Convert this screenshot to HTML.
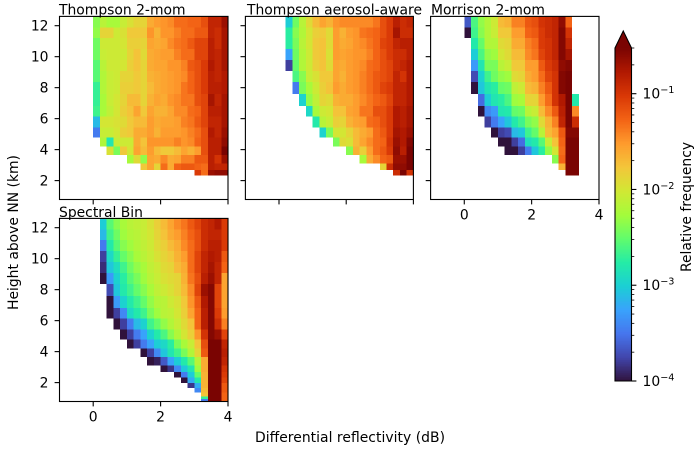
<!DOCTYPE html>
<html lang="en">
<head>
<meta charset="utf-8">
<title>Relative frequency of differential reflectivity by height</title>
<style>
  html, body { margin: 0; padding: 0; background: #fff; }
  svg { display: block; }
  text { font-family: "DejaVu Sans", "Liberation Sans", sans-serif; font-size: 13.9px; fill: #000; }
</style>
</head>
<body>
<svg id="chart" xmlns="http://www.w3.org/2000/svg" width="699" height="449" viewBox="0 0 699 449">
  <rect x="0" y="0" width="699" height="449" fill="#fff"/>
  <g id="panels"></g>
  <g id="colorbar"></g>
  <text x="350" y="442" text-anchor="middle" textLength="190">Differential reflectivity (dB)</text>
  <text transform="translate(18,232.5) rotate(-90)" text-anchor="middle">Height above NN (km)</text>
  <text transform="translate(691,207) rotate(-90)" text-anchor="middle">Relative frequency</text>
</svg>
<script>
// Data: log10(relative frequency); each row starts at the 0 dB bin, _ = empty bin.
const _ = null;
const binWidthDb = 0.2;
const firstBinDb = 0;
const heightEdgesKm = [12.6,11.89,11.2,10.49,9.78,9.07,8.36,7.59,6.81,6.13,5.44,4.77,4.19,3.65,3.12,2.68,2.32,1.97,1.65,1.37,1.10,0.94,0.80];
const xTicks = [0, 2, 4];
const yTicks = [2, 4, 6, 8, 10, 12];
const colorbarMajorExponents = [-1, -2, -3, -4];

const thompson2Mom = [
[-2.37,-2.15,-2.24,-2.24,-2.07,-1.96,-1.87,-1.87,-1.61,-1.53,-1.49,-1.44,-1.31,-1.31,-1.27,-1.27,-1.15,-0.87,-0.87,-0.67],
[-2.33,-1.87,-1.87,-2.04,-1.96,-1.79,-1.79,-1.79,-1.49,-1.65,-1.49,-1.49,-1.4,-1.31,-1.31,-1.21,-1.21,-0.87,-0.93,-0.72],
[-2.46,-2.04,-2.04,-2.04,-2.0,-1.83,-1.83,-1.87,-1.57,-1.61,-1.57,-1.44,-1.35,-1.31,-1.21,-1.09,-1.09,-0.82,-0.93,-0.72],
[-2.46,-2.07,-2.04,-2.04,-2.04,-1.87,-1.75,-1.91,-1.61,-1.57,-1.53,-1.53,-1.4,-1.31,-1.31,-1.09,-1.09,-0.82,-0.87,-0.72],
[-2.55,-2.15,-2.04,-2.04,-2.0,-1.83,-1.75,-1.87,-1.61,-1.57,-1.57,-1.49,-1.49,-1.4,-1.21,-1.15,-1.03,-0.77,-0.87,-0.72],
[-2.55,-2.19,-2.07,-2.04,-1.87,-1.87,-1.79,-1.87,-1.65,-1.61,-1.57,-1.53,-1.49,-1.44,-1.27,-1.15,-1.03,-0.82,-0.87,-0.77],
[-2.69,-2.19,-2.07,-2.04,-1.83,-1.83,-1.79,-1.87,-1.7,-1.61,-1.57,-1.53,-1.49,-1.35,-1.27,-1.15,-1.03,-0.82,-0.82,-0.77],
[-2.69,-2.24,-2.07,-2.0,-1.87,-1.7,-1.7,-1.87,-1.65,-1.57,-1.61,-1.49,-1.44,-1.35,-1.35,-1.15,-1.09,-0.72,-0.87,-0.72],
[-2.65,-2.24,-2.11,-2.0,-1.83,-1.75,-1.57,-1.79,-1.57,-1.65,-1.65,-1.57,-1.44,-1.44,-1.31,-1.27,-1.09,-0.82,-0.82,-0.72],
[-3.12,-2.0,-2.0,-1.96,-1.91,-1.79,-1.7,-1.7,-1.53,-1.61,-1.57,-1.57,-1.53,-1.4,-1.35,-1.21,-1.09,-0.87,-0.87,-0.72],
[-3.47,-2.07,-2.07,-2.0,-1.83,-1.79,-1.61,-1.61,-1.53,-1.65,-1.53,-1.53,-1.53,-1.49,-1.4,-1.31,-1.15,-0.77,-0.87,-0.67],
[_,-2.19,-2.82,-2.07,-2.04,-2.04,-1.61,-1.75,-1.49,-1.49,-1.49,-1.49,-1.4,-1.49,-1.44,-1.27,-1.15,-0.82,-0.82,-0.62],
[_,_,-1.96,-2.42,-1.79,-2.0,-1.57,-1.7,-1.53,-1.7,-1.79,-1.79,-1.7,-1.57,-1.65,-1.53,-1.15,-0.82,-0.82,-0.52],
[_,_,_,_,_,-2.24,-1.91,-2.33,-1.57,-1.61,-1.44,-1.61,-1.57,-1.4,-1.4,-1.21,-1.21,-0.82,-0.98,-0.67],
[_,_,_,_,_,_,_,-1.79,-1.57,-1.87,-1.31,-1.61,-1.27,-1.21,-1.21,-1.27,-1.31,-0.82,-0.87,-0.87],
[_,_,_,_,_,_,_,_,_,_,_,_,_,_,_,-1.03,-1.31,-0.67,-0.62,-0.62]
];

const thompsonAerosol = [
[_,-3.02,-2.46,-2.15,-1.91,-1.7,-1.57,-1.65,-1.49,-1.44,-1.44,-1.44,-1.44,-1.44,-1.35,-1.15,-1.03,-0.82,-0.93,-0.87],
[_,-2.74,-2.37,-2.19,-2.0,-1.83,-1.79,-1.91,-1.53,-1.65,-1.53,-1.49,-1.35,-1.31,-1.27,-1.15,-1.03,-0.72,-0.93,-0.93],
[_,-2.74,-2.42,-2.15,-2.0,-1.79,-1.75,-1.91,-1.53,-1.61,-1.57,-1.49,-1.44,-1.35,-1.27,-1.09,-1.03,-0.87,-0.82,-0.82],
[_,-3.25,-2.46,-2.19,-2.04,-1.79,-1.75,-1.96,-1.53,-1.57,-1.53,-1.49,-1.49,-1.4,-1.27,-1.15,-1.03,-0.93,-0.93,-0.82],
[_,-3.78,-2.5,-2.19,-2.04,-1.83,-1.75,-1.91,-1.57,-1.61,-1.53,-1.49,-1.44,-1.31,-1.27,-1.15,-1.09,-0.93,-0.87,-0.77],
[_,_,-2.6,-2.37,-2.07,-1.96,-1.79,-1.79,-1.57,-1.65,-1.53,-1.49,-1.4,-1.31,-1.21,-1.15,-1.09,-0.87,-0.98,-0.77],
[_,_,-3.47,-2.42,-2.24,-2.04,-1.83,-1.75,-1.53,-1.61,-1.53,-1.49,-1.4,-1.31,-1.21,-1.09,-1.03,-0.87,-0.87,-0.77],
[_,_,_,-2.98,-2.33,-2.11,-1.87,-1.91,-1.65,-1.61,-1.61,-1.53,-1.44,-1.35,-1.27,-1.21,-1.09,-0.87,-0.87,-0.77],
[_,_,_,_,-2.93,-2.24,-2.04,-2.0,-1.75,-1.75,-1.57,-1.53,-1.35,-1.35,-1.15,-1.15,-1.03,-0.77,-0.82,-0.72],
[_,_,_,_,_,-2.78,-2.15,-2.07,-1.83,-1.87,-1.65,-1.57,-1.53,-1.31,-1.27,-1.15,-1.03,-0.77,-0.82,-0.72],
[_,_,_,_,_,_,-2.98,-2.42,-2.0,-2.0,-1.87,-1.7,-1.61,-1.53,-1.31,-1.21,-1.03,-0.72,-0.77,-0.67],
[_,_,_,_,_,_,_,_,-2.42,-1.91,-1.96,-1.7,-1.57,-1.44,-1.31,-1.27,-0.98,-0.67,-0.77,-0.57],
[_,_,_,_,_,_,_,_,_,_,-2.37,-1.65,-1.83,-1.53,-1.31,-1.21,-1.03,-0.62,-0.82,-0.52],
[_,_,_,_,_,_,_,_,_,_,_,_,-2.24,-1.61,-1.44,-1.27,-1.21,-0.67,-0.67,-0.52],
[_,_,_,_,_,_,_,_,_,_,_,_,_,_,_,-1.87,-0.93,-0.62,-0.62,-0.52],
[_,_,_,_,_,_,_,_,_,_,_,_,_,_,_,_,_,-0.93,-0.52,-0.98]
];

const morrison2Mom = [
[-3.65,-2.6,-2.33,-2.19,-2.04,-1.7,-1.65,-1.4,-1.4,-1.21,-1.15,-0.98,-0.93,-0.87,-0.62,-1.27],
[-4.0,-2.65,-2.37,-2.19,-2.07,-1.79,-1.79,-1.53,-1.53,-1.27,-1.21,-1.03,-0.93,-0.87,-0.57,-0.98],
[_,-2.78,-2.5,-2.19,-2.19,-1.91,-1.87,-1.61,-1.61,-1.4,-1.31,-1.03,-0.98,-0.87,-0.57,-0.87],
[_,-3.02,-2.6,-2.33,-2.28,-2.0,-1.91,-1.7,-1.7,-1.44,-1.35,-1.09,-0.98,-0.87,-0.57,-0.72],
[_,-3.3,-2.82,-2.42,-2.42,-2.15,-2.07,-1.79,-1.79,-1.53,-1.53,-1.21,-1.03,-0.93,-0.62,-0.57],
[_,-3.72,-2.98,-2.65,-2.46,-2.33,-2.28,-1.91,-1.87,-1.61,-1.53,-1.31,-1.09,-0.98,-0.57,-0.52],
[_,-4.0,-3.05,-2.82,-2.74,-2.5,-2.46,-2.11,-2.04,-1.7,-1.65,-1.4,-1.21,-0.98,-0.57,-0.52],
[_,_,-3.55,-3.02,-2.82,-2.74,-2.6,-2.28,-2.24,-1.87,-1.87,-1.53,-1.31,-0.98,-0.77,-0.52,-2.78],
[_,_,-4.0,-3.4,-3.3,-2.82,-2.78,-2.5,-2.46,-2.15,-2.07,-1.7,-1.44,-1.21,-0.82,-0.52,-1.44],
[_,_,_,-3.78,-3.47,-3.25,-3.05,-2.78,-2.65,-2.42,-2.33,-1.91,-1.65,-1.4,-0.87,-0.52,-0.93],
[_,_,_,_,-4.0,-3.78,-3.72,-3.12,-3.05,-2.65,-2.5,-2.15,-1.7,-1.57,-1.21,-0.57,-0.57],
[_,_,_,_,_,-4.0,-4.0,-3.78,-3.55,-2.88,-2.78,-2.55,-2.07,-1.75,-1.27,-0.52,-0.52],
[_,_,_,_,_,_,-4.0,-4.0,-3.78,-3.47,-3.05,-2.74,-2.33,-2.0,-1.31,-0.52,-0.52],
[_,_,_,_,_,_,_,_,_,_,_,_,_,-2.37,-1.27,-0.52,-0.52],
[_,_,_,_,_,_,_,_,_,_,_,_,_,_,-1.65,-0.52,-0.52],
[_,_,_,_,_,_,_,_,_,_,_,_,_,_,_,-0.52,-0.52]
];

const spectralBin = [
[_,-3.02,-2.55,-2.37,-2.24,-2.15,-2.11,-2.07,-1.96,-1.83,-1.7,-1.57,-1.44,-1.35,-1.21,-1.09,-0.93,-0.87,-0.77,-1.03],
[_,-3.12,-2.65,-2.46,-2.28,-2.19,-2.15,-2.07,-2.0,-1.87,-1.75,-1.61,-1.53,-1.4,-1.27,-1.15,-0.93,-0.87,-0.87,-1.03],
[_,-3.47,-2.78,-2.55,-2.37,-2.28,-2.19,-2.11,-2.04,-1.91,-1.83,-1.7,-1.61,-1.44,-1.31,-1.15,-0.93,-0.82,-0.82,-1.03],
[_,-3.78,-2.93,-2.69,-2.5,-2.37,-2.24,-2.15,-2.07,-1.96,-1.87,-1.79,-1.65,-1.53,-1.31,-1.09,-0.87,-0.77,-0.82,-1.21],
[_,-3.87,-3.05,-2.88,-2.65,-2.46,-2.33,-2.24,-2.11,-2.04,-1.91,-1.87,-1.7,-1.61,-1.31,-1.09,-0.87,-0.72,-0.87,-1.27],
[_,-4.0,-3.3,-2.98,-2.74,-2.55,-2.42,-2.28,-2.15,-2.07,-1.96,-1.91,-1.87,-1.65,-1.35,-1.15,-0.82,-0.67,-0.87,-1.57],
[_,_,-3.72,-3.05,-2.78,-2.65,-2.5,-2.37,-2.24,-2.11,-2.04,-1.96,-1.87,-1.7,-1.44,-1.09,-0.67,-0.57,-1.09,-1.57],
[_,_,-4.0,-3.3,-2.98,-2.78,-2.65,-2.5,-2.33,-2.19,-2.15,-2.04,-1.96,-1.79,-1.49,-1.21,-0.77,-0.57,-1.09,-1.57],
[_,_,-4.0,-3.78,-3.4,-2.93,-2.78,-2.65,-2.42,-2.28,-2.15,-2.11,-2.0,-1.83,-1.57,-1.27,-0.82,-0.57,-1.03,-1.53],
[_,_,_,-4.0,-3.78,-3.47,-3.12,-2.98,-2.65,-2.5,-2.33,-2.19,-2.07,-1.91,-1.75,-1.27,-0.82,-0.57,-0.93,-1.4],
[_,_,_,_,-4.0,-3.78,-3.47,-3.25,-2.98,-2.78,-2.6,-2.37,-2.19,-2.0,-1.83,-1.49,-0.98,-0.57,-0.67,-1.09],
[_,_,_,_,_,-4.0,-3.78,-3.47,-3.25,-3.02,-2.93,-2.74,-2.42,-2.24,-2.07,-1.75,-1.15,-0.52,-0.52,-0.87],
[_,_,_,_,_,_,_,-4.0,-3.78,-3.4,-3.05,-2.82,-2.65,-2.42,-2.19,-1.87,-1.21,-0.52,-0.52,-0.82],
[_,_,_,_,_,_,_,_,-4.0,-3.93,-3.65,-3.25,-3.02,-2.78,-2.55,-2.15,-1.61,-0.52,-0.52,-0.87],
[_,_,_,_,_,_,_,_,_,_,-4.0,-3.83,-3.4,-3.05,-2.82,-2.28,-1.61,-0.52,-0.52,-0.98],
[_,_,_,_,_,_,_,_,_,_,_,_,-4.0,-3.47,-3.02,-2.5,-1.65,-0.52,-0.52,-1.03],
[_,_,_,_,_,_,_,_,_,_,_,_,_,-4.0,-3.2,-2.78,-1.65,-0.52,-0.52,-1.09],
[_,_,_,_,_,_,_,_,_,_,_,_,_,_,-3.83,-3.2,-1.65,-0.52,-0.52,-1.21],
[_,_,_,_,_,_,_,_,_,_,_,_,_,_,_,-3.4,-1.7,-0.52,-0.52,-1.21],
[_,_,_,_,_,_,_,_,_,_,_,_,_,_,_,_,-1.75,-0.52,-0.52,-1.27],
[_,_,_,_,_,_,_,_,_,_,_,_,_,_,_,_,-2.69,-0.52,-0.52,-1.27],
[_,_,_,_,_,_,_,_,_,_,_,_,_,_,_,_,-3.47,-0.52,-0.52,-1.27]
];

const SVGNS = 'http://www.w3.org/2000/svg';
const logMin = -4;
const logMax = Math.log10(0.3);
const xDomain = [-1, 4];
const yDomain = [12.6, 0.78];
const turboStops = ['#30123b','#4145ab','#4675ed','#39a2fc','#1bcfd4','#24eca6','#61fc6c','#a4fc3b','#d1e834','#f3c63a','#fe9b2d','#f36315','#d93806','#b11901','#7a0402'];

function hexChannels(h) {
  return [parseInt(h.slice(1, 3), 16), parseInt(h.slice(3, 5), 16), parseInt(h.slice(5, 7), 16)];
}
function turbo(t) {
  const x = Math.max(0, Math.min(1, t)) * (turboStops.length - 1);
  const i = Math.min(Math.floor(x), turboStops.length - 2);
  const f = x - i;
  const a = hexChannels(turboStops[i]);
  const b = hexChannels(turboStops[i + 1]);
  return 'rgb(' + a.map((v, k) => Math.round(v + (b[k] - v) * f)).join(',') + ')';
}
function colorOf(logValue) { return turbo((logValue - logMin) / (logMax - logMin)); }
function make(tag, attrs, parent) {
  const el = document.createElementNS(SVGNS, tag);
  for (const k in attrs) el.setAttribute(k, attrs[k]);
  parent.appendChild(el);
  return el;
}

const panelDefs = [
  { key: 'thompson-2-mom', title: 'Thompson 2-mom', rows: thompson2Mom, box: [59.5, 16.4, 228, 199.5], titleX: 59, titleLift: 2, xLabels: false, yLabels: true },
  { key: 'thompson-aerosol-aware', title: 'Thompson aerosol-aware', rows: thompsonAerosol, box: [245.4, 16.4, 413.4, 199.5], titleX: 247, titleLift: 2, xLabels: false, yLabels: false },
  { key: 'morrison-2-mom', title: 'Morrison 2-mom', rows: morrison2Mom, box: [430.6, 16.4, 599, 199.5], titleX: 431, titleLift: 2, xLabels: true, yLabels: false },
  { key: 'spectral-bin', title: 'Spectral Bin', rows: spectralBin, box: [59.5, 218.4, 228, 401.5], titleX: 59, titleLift: 1.5, xLabels: true, yLabels: true }
];

function drawPanel(def) {
  const [x0, y0, x1, y1] = def.box;
  const xScale = v => x0 + (v - xDomain[0]) / (xDomain[1] - xDomain[0]) * (x1 - x0);
  const yScale = v => y0 + (yDomain[0] - v) / (yDomain[0] - yDomain[1]) * (y1 - y0);
  const g = make('g', {}, document.getElementById('panels'));
  
  

  def.rows.forEach((row, r) => {
    row.forEach((value, c) => {
      if (value === null) return;
      const left = firstBinDb + c * binWidthDb;
      const xa = xScale(left), xb = xScale(left + binWidthDb);
      const ya = yScale(heightEdgesKm[r]), yb = yScale(heightEdgesKm[r + 1]);
      const cell = make('rect', { x: xa, y: ya, width: xb - xa, height: yb - ya, fill: colorOf(value), 'shape-rendering': 'crispEdges' }, g);
      
      
    });
  });

  const spine = make('rect', { x: x0, y: y0, width: x1 - x0, height: y1 - y0, fill: 'none', stroke: '#000', 'stroke-width': 1.1 }, g);
  
  

  xTicks.forEach(t => {
    const px = xScale(t);
    const tick = make('line', { x1: px, x2: px, y1: y1, y2: y1 + 4.9, stroke: '#000', 'stroke-width': 1.1 }, g);
    
    
    if (def.xLabels) {
      const label = make('text', { x: px, y: y1 + 20, 'text-anchor': 'middle' }, g);
      
      
      label.textContent = t;
    }
  });
  yTicks.forEach(t => {
    const py = yScale(t);
    const tick = make('line', { x1: x0 - 4.9, x2: x0, y1: py, y2: py, stroke: '#000', 'stroke-width': 1.1 }, g);
    
    
    if (def.yLabels) {
      const label = make('text', { x: x0 - 11, y: py + 5, 'text-anchor': 'end' }, g);
      
      
      label.textContent = t;
    }
  });
  const title = make('text', { x: def.titleX, y: y0 - def.titleLift, 'text-anchor': 'start' }, g);
  
  
  title.textContent = def.title;
}
panelDefs.forEach(drawPanel);

function drawColorbar() {
  const g = document.getElementById('colorbar');
  const xa = 615, xb = 631.5, top = 48, bottom = 381, apex = 31;
  const yOf = v => bottom - (v - logMin) / (logMax - logMin) * (bottom - top);
  const steps = 256;
  for (let i = 0; i < steps; i++) {
    const lo = logMin + (logMax - logMin) * i / steps;
    const hi = logMin + (logMax - logMin) * (i + 1) / steps;
    const strip = make('rect', { x: xa, y: yOf(hi), width: xb - xa, height: yOf(lo) - yOf(hi) + 0.5, fill: colorOf((lo + hi) / 2), 'shape-rendering': 'crispEdges' }, g);
    
    
  }
  const arrow = make('polygon', { points: xa + ',' + top + ' ' + (xa + xb) / 2 + ',' + apex + ' ' + xb + ',' + top, fill: turbo(1) }, g);
  
  
  const outline = make('polygon', { points: xa + ',' + bottom + ' ' + xa + ',' + top + ' ' + (xa + xb) / 2 + ',' + apex + ' ' + xb + ',' + top + ' ' + xb + ',' + bottom, fill: 'none', stroke: '#000', 'stroke-width': 1.1 }, g);
  
  

  colorbarMajorExponents.forEach(exp => {
    const py = yOf(exp);
    const tick = make('line', { x1: xb, x2: xb + 4.9, y1: py, y2: py, stroke: '#000', 'stroke-width': 1.1 }, g);
    
    
    const label = make('text', { x: xb + 11, y: py + 5 }, g);
    
    
    label.appendChild(document.createTextNode('10'));
    const sup = make('tspan', { dy: -5.5 }, label);
    sup.style.fontSize = '9.7px';
    sup.textContent = '\u2212' + Math.abs(exp);
    for (let m = 2; m <= 9; m++) {
      const v = exp + Math.log10(m);
      if (v > logMax) break;
      const minor = make('line', { x1: xb, x2: xb + 2.8, y1: yOf(v), y2: yOf(v), stroke: '#000', 'stroke-width': 0.8 }, g);
      
      
    }
  });
}
drawColorbar();
</script>
</body>
</html>
